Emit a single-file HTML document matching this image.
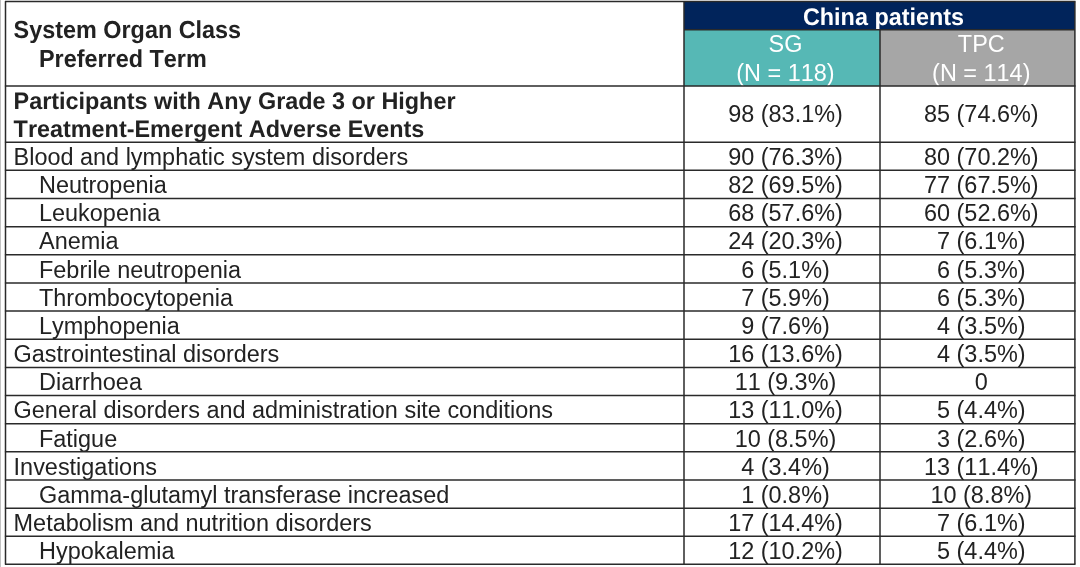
<!DOCTYPE html>
<html lang="en">
<head>
<meta charset="utf-8">
<title>Grade 3 or Higher Treatment-Emergent Adverse Events - China patients</title>
<style>
html,body{margin:0;padding:0;background:#fff;}
body{width:1080px;height:567px;overflow:hidden;}
svg{display:block;}
text{font-kerning:none;font-family:"Liberation Sans",Arial,Helvetica,sans-serif;font-size:23.45px;fill:#222222;}
.b{font-weight:bold;text-rendering:geometricPrecision;}
.w{fill:#fff;}
.c{text-anchor:middle;}
</style>
</head>
<body>
<svg width="1080" height="567" viewBox="0 0 1080 567">
<rect x="0" y="0" width="1080" height="567" fill="#ffffff"/>
<rect x="0" y="0" width="1" height="567" fill="#c2c2c2"/>
<rect x="684.0" y="1.6" width="390.9" height="28.1" fill="#01245b"/>
<rect x="684.0" y="29.7" width="196.0" height="56.4" fill="#56b8b5"/>
<rect x="880.0" y="29.7" width="194.9" height="56.4" fill="#a6a6a6"/>
<text class="b" style="font-size:23.4px" transform="translate(13.6,38.4) scale(1,1.05)">System Organ Class</text>
<text class="b" style="font-size:23.4px" transform="translate(39.0,67.0) scale(1,1.05)">Preferred Term</text>
<text class="b w c" style="font-size:23.4px" transform="translate(883.5,24.5) scale(1,1.03)">China patients</text>
<text class="w c" x="785.5" y="52.0">SG</text>
<text class="w c" x="785.5" y="80.8">(N = 118)</text>
<text class="w c" x="981.3" y="52.0">TPC</text>
<text class="w c" x="981.3" y="80.8">(N = 114)</text>
<text class="b" style="font-size:23.4px" transform="translate(13.6,108.7) scale(1,1.02)">Participants with Any Grade 3 or Higher</text>
<text class="b" style="font-size:23.4px" transform="translate(13.6,136.9) scale(1,1.02)">Treatment-Emergent Adverse Events</text>
<text class="c" x="785.5" y="122.3">98 (83.1%)</text>
<text class="c" x="981.3" y="122.3">85 (74.6%)</text>
<text x="13.6" y="165.00">Blood and lymphatic system disorders</text>
<text class="c" x="785.5" y="165.00">90 (76.3%)</text>
<text class="c" x="981.3" y="165.00">80 (70.2%)</text>
<text x="39.0" y="193.15">Neutropenia</text>
<text class="c" x="785.5" y="193.15">82 (69.5%)</text>
<text class="c" x="981.3" y="193.15">77 (67.5%)</text>
<text x="39.0" y="221.30">Leukopenia</text>
<text class="c" x="785.5" y="221.30">68 (57.6%)</text>
<text class="c" x="981.3" y="221.30">60 (52.6%)</text>
<text x="39.0" y="249.45">Anemia</text>
<text class="c" x="785.5" y="249.45">24 (20.3%)</text>
<text class="c" x="981.3" y="249.45">7 (6.1%)</text>
<text x="39.0" y="277.60">Febrile neutropenia</text>
<text class="c" x="785.5" y="277.60">6 (5.1%)</text>
<text class="c" x="981.3" y="277.60">6 (5.3%)</text>
<text x="39.0" y="305.75">Thrombocytopenia</text>
<text class="c" x="785.5" y="305.75">7 (5.9%)</text>
<text class="c" x="981.3" y="305.75">6 (5.3%)</text>
<text x="39.0" y="333.90">Lymphopenia</text>
<text class="c" x="785.5" y="333.90">9 (7.6%)</text>
<text class="c" x="981.3" y="333.90">4 (3.5%)</text>
<text x="13.6" y="362.05">Gastrointestinal disorders</text>
<text class="c" x="785.5" y="362.05">16 (13.6%)</text>
<text class="c" x="981.3" y="362.05">4 (3.5%)</text>
<text x="39.0" y="390.20">Diarrhoea</text>
<text class="c" x="785.5" y="390.20">11 (9.3%)</text>
<text class="c" x="981.3" y="390.20">0</text>
<text x="13.6" y="418.35">General disorders and administration site conditions</text>
<text class="c" x="785.5" y="418.35">13 (11.0%)</text>
<text class="c" x="981.3" y="418.35">5 (4.4%)</text>
<text x="39.0" y="446.50">Fatigue</text>
<text class="c" x="785.5" y="446.50">10 (8.5%)</text>
<text class="c" x="981.3" y="446.50">3 (2.6%)</text>
<text x="13.6" y="474.65">Investigations</text>
<text class="c" x="785.5" y="474.65">4 (3.4%)</text>
<text class="c" x="981.3" y="474.65">13 (11.4%)</text>
<text x="39.0" y="502.80">Gamma-glutamyl transferase increased</text>
<text class="c" x="785.5" y="502.80">1 (0.8%)</text>
<text class="c" x="981.3" y="502.80">10 (8.8%)</text>
<text x="13.6" y="530.95">Metabolism and nutrition disorders</text>
<text class="c" x="785.5" y="530.95">17 (14.4%)</text>
<text class="c" x="981.3" y="530.95">7 (6.1%)</text>
<text x="39.0" y="559.10">Hypokalemia</text>
<text class="c" x="785.5" y="559.10">12 (10.2%)</text>
<text class="c" x="981.3" y="559.10">5 (4.4%)</text>
<g stroke="#2a2a2a" stroke-width="1.5" fill="none">
<line x1="4.9" y1="1.60" x2="1075.5" y2="1.60"/>
<line x1="4.9" y1="86.10" x2="1075.5" y2="86.10"/>
<line x1="4.9" y1="142.20" x2="1075.5" y2="142.20"/>
<line x1="4.9" y1="170.35" x2="1075.5" y2="170.35"/>
<line x1="4.9" y1="198.50" x2="1075.5" y2="198.50"/>
<line x1="4.9" y1="226.65" x2="1075.5" y2="226.65"/>
<line x1="4.9" y1="254.80" x2="1075.5" y2="254.80"/>
<line x1="4.9" y1="282.95" x2="1075.5" y2="282.95"/>
<line x1="4.9" y1="311.10" x2="1075.5" y2="311.10"/>
<line x1="4.9" y1="339.25" x2="1075.5" y2="339.25"/>
<line x1="4.9" y1="367.40" x2="1075.5" y2="367.40"/>
<line x1="4.9" y1="395.55" x2="1075.5" y2="395.55"/>
<line x1="4.9" y1="423.70" x2="1075.5" y2="423.70"/>
<line x1="4.9" y1="451.85" x2="1075.5" y2="451.85"/>
<line x1="4.9" y1="480.00" x2="1075.5" y2="480.00"/>
<line x1="4.9" y1="508.15" x2="1075.5" y2="508.15"/>
<line x1="4.9" y1="536.30" x2="1075.5" y2="536.30"/>
<line x1="4.9" y1="564.30" x2="1075.5" y2="564.30"/>
<line x1="684.0" y1="29.7" x2="1074.9" y2="29.7"/>
<line x1="5.5" y1="1.6" x2="5.5" y2="564.3"/>
<line x1="684.0" y1="1.6" x2="684.0" y2="564.3"/>
<line x1="880.0" y1="29.7" x2="880.0" y2="564.3"/>
<line x1="1074.9" y1="1.6" x2="1074.9" y2="564.3"/>
</g>
</svg>
</body>
</html>
